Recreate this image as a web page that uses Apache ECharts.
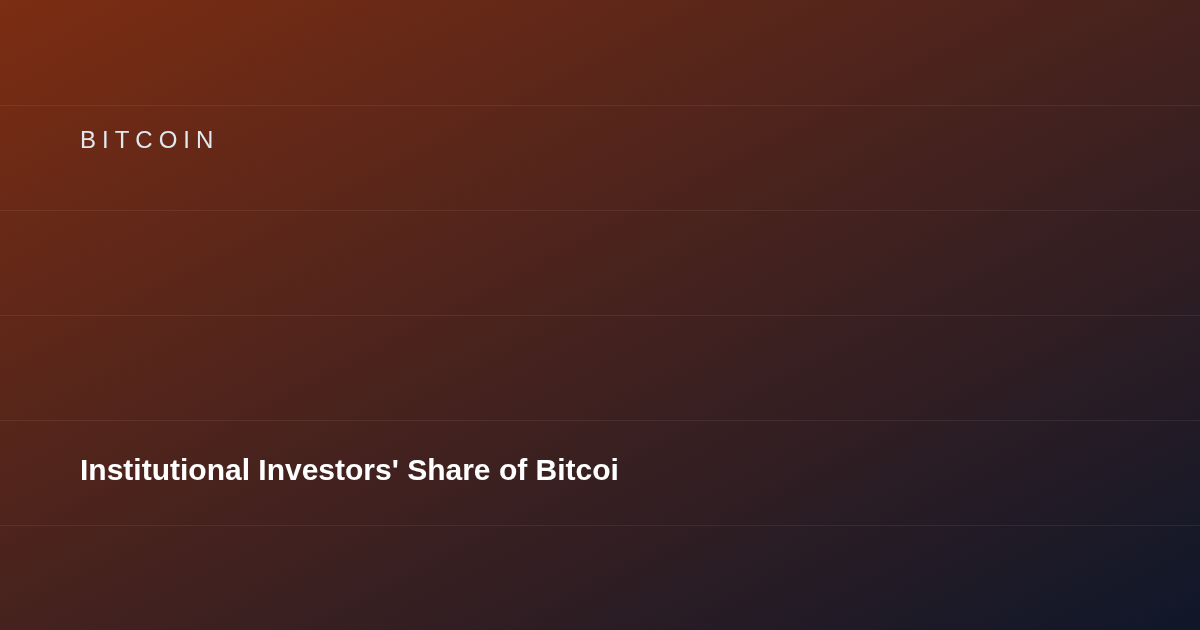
<!DOCTYPE html>
<html>
<head>
<meta charset="utf-8">
<script src="https://cdn.jsdelivr.net/npm/echarts@6/dist/echarts.min.js"></script>
<style>
  html, body { margin: 0; padding: 0; }
  body { width: 1200px; height: 630px; overflow: hidden;
         background: linear-gradient(to bottom right, #7c2d12, #0f172a); }
  #main { width: 1200px; height: 630px; }
</style>
</head>
<body>
<div id="main"></div>
<script>
// band rows of the card, top to bottom
var bandMin = 0;
var bandMax = 6;
var bandStep = 1;
var kicker = 'BITCOIN';
var headline = "Institutional Investors' Share of Bitcoi";

var lineColor = 'rgba(255,255,255,0.07)';
// first and last rule sit on the card edges, keep them hidden
var ruleColors = [];
for (var i = bandMin; i <= bandMax; i += bandStep) {
    ruleColors.push(i == bandMin || i == bandMax ? 'rgba(0,0,0,0)' : lineColor);
}

// spaced capitals, one token per letter
var kickerText = kicker.split('').map(function (c) { return '{l|' + c + '}'; }).join('');

var myChart = echarts.init(document.getElementById('main'));
var option = {
    backgroundColor: 'transparent',
    animation: false,
    title: [
        {
            text: kickerText,
            left: 80,
            top: 129,
            padding: 0,
            textStyle: {
                fontWeight: 'normal',
                rich: {
                    l: {
                        fontFamily: 'Liberation Sans, Arial, sans-serif',
                        fontSize: 24,
                        fontWeight: 'normal',
                        color: '#e2e8f0',
                        padding: [0, 6, 0, 0]
                    }
                }
            }
        },
        {
            text: headline,
            left: 80,
            top: 457,
            padding: 0,
            textStyle: {
                fontFamily: 'Liberation Sans, Arial, sans-serif',
                fontSize: 30,
                fontWeight: 'bold',
                color: '#ffffff'
            }
        }
    ],
    grid: { left: 0, right: 0, top: 0, bottom: 0 },
    xAxis: { type: 'value', show: false, min: 0, max: 1 },
    yAxis: {
        type: 'value',
        min: bandMin,
        max: bandMax,
        interval: bandStep,
        inverse: true,
        axisLine: { show: false },
        axisTick: { show: false },
        axisLabel: { show: false },
        splitLine: { show: true, lineStyle: { color: ruleColors, width: 1 } }
    },
    series: [
        { type: 'line', data: [], silent: true }
    ]
};
myChart.setOption(option);
</script>
</body>
</html>
